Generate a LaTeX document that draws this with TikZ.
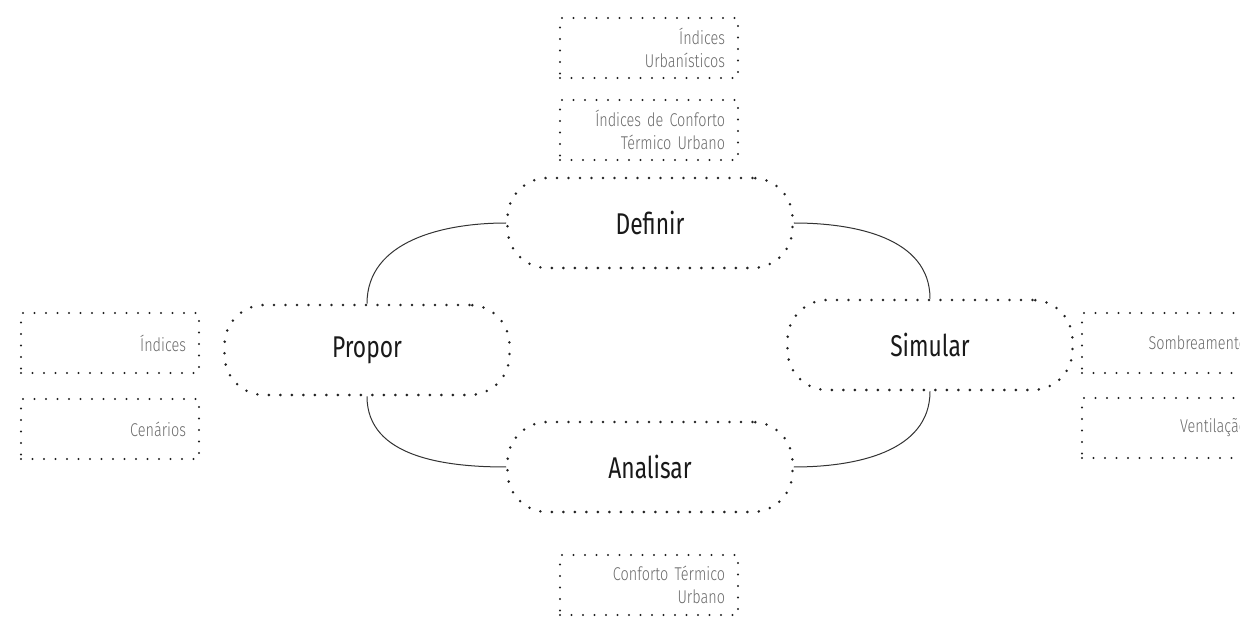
\documentclass[tikz,border=0pt]{standalone}
\usepackage{fontspec}
\newfontfamily\cond[FakeStretch=0.76]{Fira Sans}
\newfontfamily\condlight[FakeStretch=0.78]{Fira Sans Light}
\definecolor{dotc}{HTML}{222222}
\definecolor{smalltext}{HTML}{6A6A6A}
\begin{document}
\begin{tikzpicture}[x=1pt,y=-1pt,
  pill/.style={draw=dotc, line width=2.8pt, dash pattern=on 0pt off 11.5pt, line cap=round,
    rounded corners=40pt, minimum width=285pt, minimum height=90pt,
    font=\cond\fontsize{30}{34}\selectfont, text=black!90},
  infobox/.style={draw=dotc, line width=2.4pt, dash pattern=on 0pt off 11.5pt, line cap=round,
    minimum width=178pt, minimum height=60pt, inner xsep=13pt, inner ysep=0pt, text width=152pt,
    align=right, font=\condlight\fontsize{18.5}{23}\selectfont, text=smalltext},
  link/.style={draw=black!80, line width=1pt}
]
\useasboundingbox (0,0) rectangle (1240,617);
\clip (0,0) rectangle (1240,617);
% main nodes
\node[pill] (def) at (650,223) {Definir};
\node[pill] (pro) at (367,350) {Propor};
\node[pill] (sim) at (930,345) {Simular};
\node[pill] (ana) at (650,467) {Analisar};
% info boxes
\node[infobox] (iu) at (649,48) {Índices\\Urbanísticos};
\node[infobox] (ict) at (649,130) {Índices de Conforto\\Térmico Urbano};
\node[infobox] (ind) at (110,343) {Índices};
\node[infobox] (cen) at (110,429) {Cenários};
\node[infobox] (som) at (1171,343) {Sombreamento};
\node[infobox] (ven) at (1171,428) {Ventilação};
\node[infobox] (ctu) at (649,585) {Conforto Térmico\\Urbano};
% connectors
\draw[link] (def.west) to[out=180,in=90] (pro.north);
\draw[link] (def.east) to[out=0,in=90] (sim.north);
\draw[link] (sim.south) to[out=-90,in=0] (ana.east);
\draw[link] (ana.west) to[out=180,in=-90] (pro.south);
\end{tikzpicture}
\end{document}
